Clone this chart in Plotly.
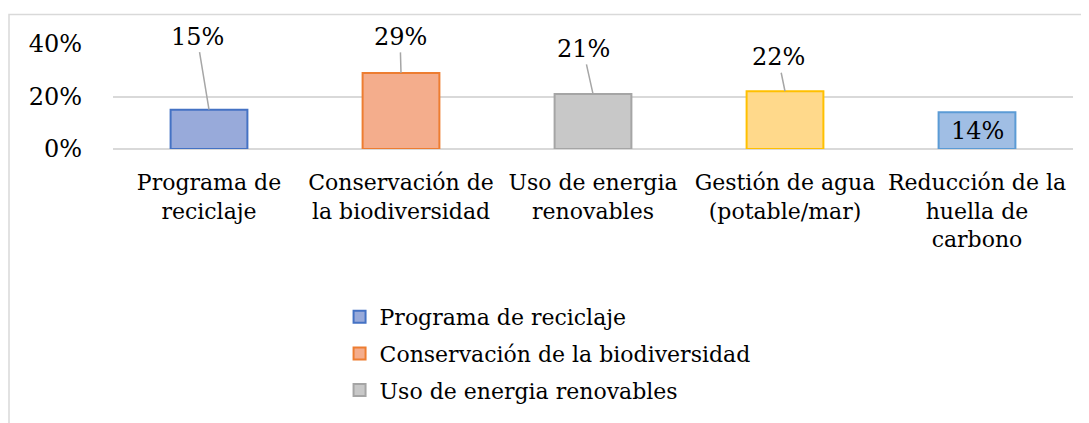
import plotly.graph_objects as go

categories = ["Programa de reciclaje", "Conservación de la biodiversidad",
              "Uso de energia renovables", "Gestión de agua (potable/mar)",
              "Reducción de la huella de carbono"]
tick_labels = ["Programa de<br>reciclaje", "Conservación de<br>la biodiversidad",
               "Uso de energia<br>renovables", "Gestión de agua<br>(potable/mar)",
               "Reducción de la<br>huella de<br>carbono"]
values = [0.15, 0.29, 0.21, 0.22, 0.14]
label_text = ["15%", "29%", "21%", "22%", "14%"]

fill_colors = ["#98AADA", "#F4AD8C", "#C8C8C8", "#FFD98B", "#A0BEE4"]
line_colors = ["#4472C4", "#ED7D31", "#A5A5A5", "#FFC000", "#5B9BD5"]
legend_shown = [True, True, True, False, False]

# label offsets (pixels) of the data labels relative to the bar tops
label_ax = [-12, -1, -10, -7, 0]
label_ay = [-73, -36, -45, -34, 0]

FONT = "DejaVu Serif"

fig = go.Figure()
for i, cat in enumerate(categories):
    fig.add_trace(go.Bar(
        x=[tick_labels[i]], y=[values[i]], name=cat, legendgroup=f"g{i}",
        marker=dict(color=fill_colors[i], line=dict(color=line_colors[i], width=2)),
        showlegend=legend_shown[i], hoverinfo="skip",
    ))

annotations = []
for i in range(len(categories)):
    if i < 4:
        annotations.append(dict(
            x=tick_labels[i], y=values[i], xref="x", yref="y",
            text=label_text[i], showarrow=True, arrowhead=0, arrowwidth=1.5,
            arrowcolor="#A6A6A6", ax=label_ax[i], ay=label_ay[i], standoff=0,
            font=dict(family=FONT, size=24, color="#000000"),
        ))
    else:
        annotations.append(dict(
            x=tick_labels[i], y=values[i] / 2, xref="x", yref="y",
            text=label_text[i], showarrow=False,
            font=dict(family=FONT, size=24, color="#000000"),
        ))

fig.update_layout(
    width=1081, height=415,
    margin=dict(l=105, r=16, t=36, b=272),
    paper_bgcolor="white", plot_bgcolor="white",
    bargap=0.6, barmode="overlay",
    font=dict(family=FONT, size=24, color="#000000"),
    xaxis=dict(showgrid=False, showline=False, zeroline=False, ticks="",
               tickangle=0, automargin=False,
               tickfont=dict(family=FONT, size=22), ticklabelstandoff=18,
               categoryorder="array", categoryarray=tick_labels),
    yaxis=dict(range=[0, 0.4], dtick=0.2, tickformat=".0%",
               showgrid=True, gridcolor="#D9D9D9", gridwidth=1.5,
               zeroline=True, zerolinecolor="#D9D9D9", zerolinewidth=1.5,
               showline=False, ticks="", ticklabelstandoff=30, automargin=False,
               tickfont=dict(family=FONT, size=24)),
    legend=dict(x=0.236, xanchor="left", y=-1.40, yanchor="top",
                orientation="v", font=dict(family=FONT, size=22),
                bgcolor="rgba(0,0,0,0)", traceorder="grouped", tracegroupgap=5),
    annotations=annotations,
    shapes=[dict(type="rect", xref="paper", yref="paper",
                 x0=(9 - 113) / 960, x1=(1100 - 113) / 960,
                 y0=(151 - 440) / 107, y1=(151 - 14) / 107,
                 line=dict(color="#D9D9D9", width=1.5), fillcolor="rgba(0,0,0,0)",
                 layer="below")],
)

fig.write_html("out.html")
